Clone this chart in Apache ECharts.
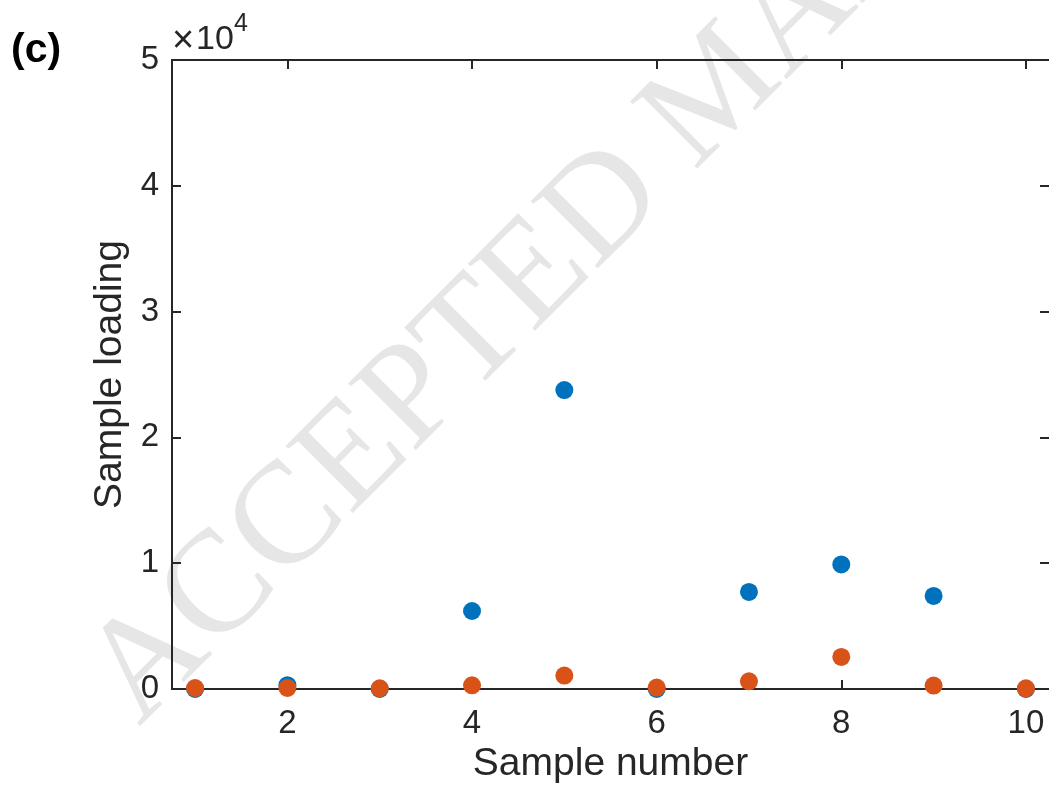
<!DOCTYPE html>
<html>
<head>
<meta charset="utf-8">
<script src="https://cdn.jsdelivr.net/npm/echarts@6/dist/echarts.min.js"></script>
<style>
html,body{margin:0;padding:0;background:#fff;}
#chart{width:1049px;height:789px;}
</style>
</head>
<body>
<div id="chart"></div>
<script>
const sampleNumbers = [1, 2, 3, 4, 5, 6, 7, 8, 9, 10];
const blueLoading = [0, 300, 0, 6200, 23760, 0, 7720, 9900, 7400, 0];
const orangeLoading = [80, 80, 60, 290, 1070, 110, 610, 2550, 270, 50];
const xTicks = [2, 4, 6, 8, 10];
const yTicks = [0, 10000, 20000, 30000, 40000, 50000];

const FONT = '"Liberation Sans", Arial, Helvetica, sans-serif';
const INK = '#262626';

const chart = echarts.init(document.getElementById('chart'));
const toPairs = (xs, ys) => xs.map((x, i) => [x, ys[i]]);

chart.setOption({
  animation: false,
  backgroundColor: '#ffffff',
  grid: { left: 172, right: 0, top: 60, bottom: 100, containLabel: false },
  xAxis: [
    {
      type: 'value', min: 0.75, max: 10.25, position: 'bottom',
      name: 'Sample number', nameLocation: 'middle', nameGap: 55,
      nameTextStyle: { fontFamily: FONT, fontSize: 39, color: INK },
      axisLine: { show: true, onZero: false, lineStyle: { color: INK, width: 2 } },
      axisTick: { show: true, inside: true, length: 9, customValues: xTicks, lineStyle: { color: INK, width: 2 } },
      axisLabel: { show: true, customValues: xTicks, margin: 18, fontFamily: FONT, fontSize: 33, color: INK },
      splitLine: { show: false }
    },
    {
      type: 'value', min: 0.75, max: 10.25, position: 'top',
      axisLine: { show: true, onZero: false, lineStyle: { color: INK, width: 2 } },
      axisTick: { show: true, inside: true, length: 9, customValues: xTicks, lineStyle: { color: INK, width: 2 } },
      axisLabel: { show: false },
      splitLine: { show: false }
    }
  ],
  yAxis: [
    {
      type: 'value', min: 0, max: 50000, interval: 10000, position: 'left',
      name: 'Sample loading', nameLocation: 'middle', nameGap: 42, nameRotate: 90,
      nameTextStyle: { fontFamily: FONT, fontSize: 39, color: INK },
      axisLine: { show: true, onZero: false, lineStyle: { color: INK, width: 2 } },
      axisTick: { show: true, inside: true, length: 9, lineStyle: { color: INK, width: 2 } },
      axisLabel: { show: true, margin: 13, fontFamily: FONT, fontSize: 33, color: INK,
        formatter: v => String(v / 10000) },
      splitLine: { show: false }
    },
    {
      type: 'value', min: 0, max: 50000, interval: 10000, position: 'right',
      axisLine: { show: false },
      axisTick: { show: true, inside: true, length: 9, lineStyle: { color: INK, width: 2 } },
      axisLabel: { show: false },
      splitLine: { show: false }
    }
  ],
  series: [
    {
      type: 'scatter', name: 'blue', xAxisIndex: 0, yAxisIndex: 0,
      data: toPairs(sampleNumbers, blueLoading),
      symbol: 'circle', symbolSize: 18,
      itemStyle: { color: '#0072BD', opacity: 1 }, z: 3
    },
    {
      type: 'scatter', name: 'orange', xAxisIndex: 0, yAxisIndex: 0,
      data: toPairs(sampleNumbers, orangeLoading),
      symbol: 'circle', symbolSize: 18,
      itemStyle: { color: '#D95319', opacity: 1 }, z: 4
    }
  ],
  graphic: [
    {
      type: 'text', x: 112, y: 700, rotation: Math.PI / 4, z: -10, silent: true,
      style: { text: 'ACCEPTED MANUSCRIPT', fontFamily: '"Liberation Serif", "Times New Roman", serif',
        fontSize: 145, fill: '#e6e6e6', textAlign: 'left', textVerticalAlign: 'middle' }
    },
    {
      type: 'text', left: 11, top: 30,
      style: { text: '(c)', fontFamily: FONT, fontSize: 41, fontWeight: 'bold', fill: '#000' }
    },
    {
      type: 'text', left: 172, top: 23,
      style: { text: '×', fontFamily: FONT, fontSize: 38, fill: INK }
    },
    {
      type: 'text', left: 196, top: 23,
      style: { text: '10', fontFamily: FONT, fontSize: 34, fill: INK }
    },
    {
      type: 'text', left: 234, top: 12,
      style: { text: '4', fontFamily: FONT, fontSize: 25, fill: INK }
    }
  ]
});
</script>
</body>
</html>
